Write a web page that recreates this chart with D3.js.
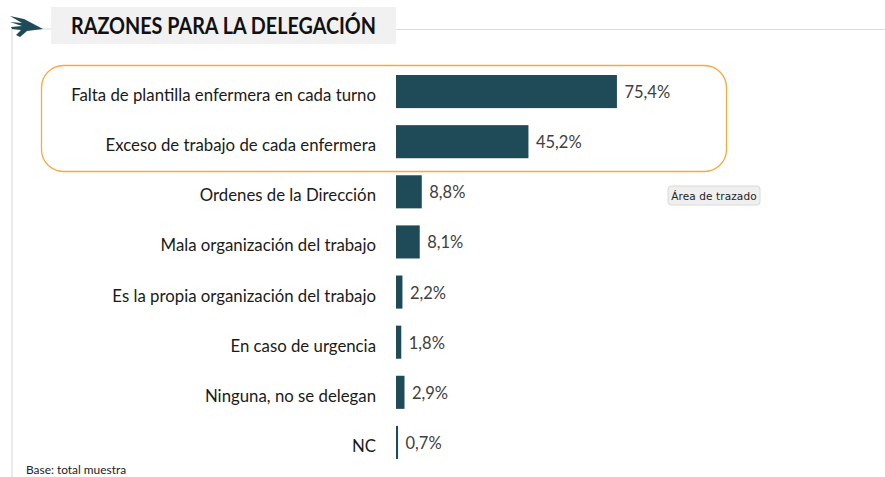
<!DOCTYPE html>
<html><head><meta charset="utf-8">
<script src="https://cdn.jsdelivr.net/npm/d3@7"></script>
<style>html,body{margin:0;padding:0;background:#fff}svg{display:block}text{font-family:Lato,"Open Sans",sans-serif}</style>
</head><body><svg id="c" width="885" height="477"></svg>
<script>
const categories=["Falta de plantilla enfermera en cada turno","Exceso de trabajo de cada enfermera","Ordenes de la Dirección","Mala organización del trabajo","Es la propia organización del trabajo","En caso de urgencia","Ninguna, no se delegan","NC"];
const values=[75.4,45.2,8.8,8.1,2.2,1.8,2.9,0.7];
const titleText="RAZONES PARA LA DELEGACIÓN";
const footnote="Base: total muestra";
const tooltipText="Área de trazado";
const svg=d3.select("#c");
const x=d3.scaleLinear().domain([0,100]).range([396,689]);
const y=d3.scaleBand().domain(categories).range([67,468]).paddingInner(0.34).paddingOuter(0.17);
const fmt=v=>v.toFixed(1).replace(".",",")+"%";
svg.append("path").attr("d","M12 29V477").attr("stroke","#dcdcdc").attr("stroke-width",1.2).attr("fill","none");
svg.append("path").attr("d","M12 29H52M396 29.5H885").attr("stroke","#dcdcdc").attr("stroke-width",1).attr("fill","none");
svg.append("rect").attr("x",51).attr("y",7).attr("width",345).attr("height",37).attr("fill","#f1f1f1");
svg.append("text").attr("x",71).attr("y",34).attr("font-size",22).attr("font-weight",700).attr("fill","#111").attr("textLength",305).attr("lengthAdjust","spacingAndGlyphs").text(titleText);
svg.append("path").attr("d","M10 16L24 19L43 29L27 31L20 37L16 35L21 30L12 29L11 27L22 26L10 22L22 23Z").attr("fill","#1f4a57");
svg.append("rect").attr("x",41.5).attr("y",65.5).attr("width",685).attr("height",106).attr("rx",22).attr("fill","none").attr("stroke","#f7a93b").attr("stroke-width",1.3);
svg.selectAll("rect.bar").data(values).join("rect").attr("class","bar")
 .attr("x",x(0)).attr("y",(d,i)=>y(categories[i])-0.5).attr("width",d=>x(d)-x(0)).attr("height",y.bandwidth()).attr("fill","#1f4a57");
svg.selectAll("text.val").data(values).join("text").attr("class","val")
 .attr("x",d=>x(d)+7.5).attr("y",(d,i)=>y(categories[i])+y.bandwidth()/2+6).attr("font-size",16.5).attr("fill","#404040").text(fmt);
svg.selectAll("text.cat").data(categories).join("text").attr("class","cat")
 .attr("x",376).attr("y",d=>y(d)+y.bandwidth()/2+9).attr("text-anchor","end").attr("font-size",16.8).attr("fill","#1a1a1a").text(d=>d);
svg.append("text").attr("x",26).attr("y",474).attr("font-size",11.9).attr("fill","#222").text(footnote);
svg.append("rect").attr("x",668).attr("y",186).attr("width",92).attr("height",19).attr("rx",3).attr("fill","#efefef").attr("stroke","#dadada");
svg.append("text").attr("x",714).attr("y",199.5).attr("text-anchor","middle").attr("fill","#222").style("font-family","'DejaVu Sans',sans-serif").style("font-size","10.5px").attr("letter-spacing",0.1).text(tooltipText);
</script></body></html>
